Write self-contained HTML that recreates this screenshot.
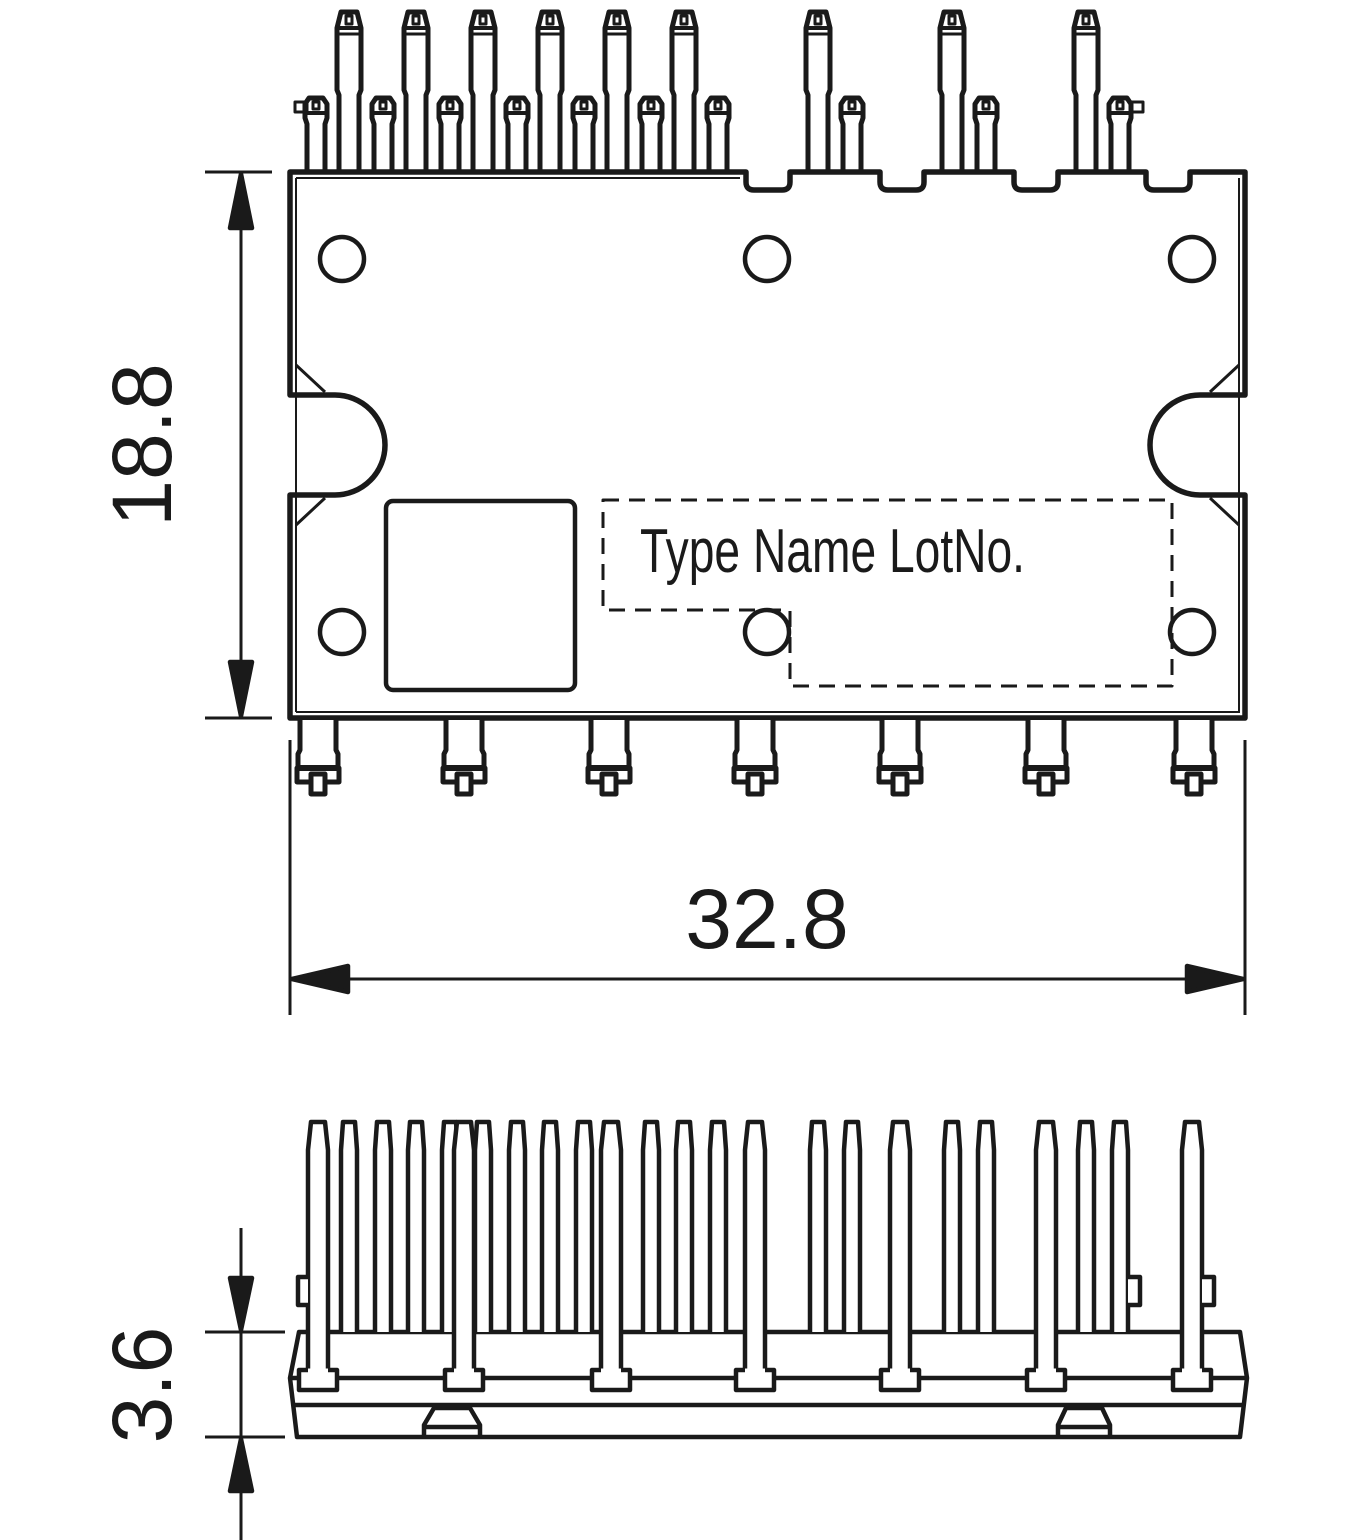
<!DOCTYPE html>
<html><head><meta charset="utf-8"><style>
html,body{margin:0;padding:0;background:#fff;}
svg{display:block;}
</style></head><body>
<svg width="1352" height="1540" viewBox="0 0 1352 1540" xmlns="http://www.w3.org/2000/svg" fill="none" stroke="#1a1a1a" stroke-width="4.5" stroke-linejoin="round">
<defs>
<g id="tall">
<path d="M-10,172 V95 L-12,90 V28 L-8,12 H8 L12,28 V90 L10,95 V172" fill="#fff" stroke-width="5"/>
<rect x="-3" y="16" width="6" height="8" stroke-width="3"/>
<line x1="-11" y1="28" x2="11" y2="28" stroke-width="4"/>
<line x1="-11" y1="34" x2="11" y2="34" stroke-width="3"/>
</g>
<g id="short">
<path d="M-9,172 V124 L-11,118 V104 L-7,98 H7 L11,104 V118 L9,124 V172" fill="#fff" stroke-width="5"/>
<rect x="-3" y="102" width="6" height="7" stroke-width="3"/>
<line x1="-10" y1="113" x2="10" y2="113" stroke-width="4"/>
</g>
<g id="bpin">
<path d="M-18,720 V750 L-20,754 V768 H20 V754 L18,750 V720" fill="#fff" stroke-width="5"/>
<rect x="-21" y="768" width="42" height="14" fill="#fff" stroke-width="5"/>
<rect x="-7" y="774" width="14" height="20" fill="#fff" stroke-width="5"/>
<line x1="-21" y1="768" x2="21" y2="768" stroke-width="6"/>
</g>
<g id="sthin">
<path d="M-8,1332 V1150 L-6,1122 H6 L8,1150 V1332" fill="#fff"/>
</g>
<g id="sthick">
<rect x="-19" y="1370" width="38" height="20" fill="#fff"/>
<path d="M-10,1372 V1150 L-7,1122 H7 L10,1150 V1372" fill="#fff"/>
<line x1="-10" y1="1371" x2="10" y2="1371" stroke="#fff" stroke-width="5"/>
</g>
</defs>

<use href="#short" x="316"/><use href="#short" x="383"/><use href="#short" x="450"/><use href="#short" x="517"/><use href="#short" x="584"/><use href="#short" x="651"/><use href="#short" x="718"/><use href="#short" x="852"/><use href="#short" x="986"/><use href="#short" x="1120"/>
<use href="#tall" x="349"/><use href="#tall" x="416"/><use href="#tall" x="483"/><use href="#tall" x="550"/><use href="#tall" x="617"/><use href="#tall" x="684"/><use href="#tall" x="818"/><use href="#tall" x="952"/><use href="#tall" x="1086"/>
<rect x="295" y="102" width="12" height="10" stroke-width="3"/>
<rect x="1131" y="102" width="12" height="10" stroke-width="3"/>

<path d="M290,172 H746 V182 Q746,190 754,190 H782 Q790,190 790,182 V172 H880 V182 Q880,190 888,190 H916 Q924,190 924,182 V172 H1014 V182 Q1014,190 1022,190 H1050 Q1058,190 1058,182 V172 H1146 V182 Q1146,190 1154,190 H1182 Q1190,190 1190,182 V172 H1245 V395 H1200 A50,50 0 0 0 1200,495 H1245 V718 H290 V495 H335 A50,50 0 0 0 335,395 H290 Z" fill="#fff" stroke-width="5.5"/>
<line x1="296" y1="178" x2="296" y2="712" stroke-width="2"/>
<line x1="296" y1="178" x2="740" y2="178" stroke-width="2"/>
<line x1="296" y1="712" x2="1240" y2="712" stroke-width="2"/>
<line x1="1239" y1="178" x2="1239" y2="712" stroke-width="2"/>
<path d="M296,365 L325,392 M296,525 L325,498 M1239,365 L1210,392 M1239,525 L1210,498" stroke-width="3"/>
<circle cx="342" cy="259" r="22"/><circle cx="767" cy="259" r="22"/><circle cx="1192" cy="259" r="22"/>
<circle cx="342" cy="632" r="22"/><circle cx="767" cy="632" r="22"/><circle cx="1192" cy="632" r="22"/>
<rect x="386" y="501" width="189" height="189" rx="7"/>
<path d="M603,500 H1172 V686 H790 V610 H603 Z" stroke-width="3" stroke-dasharray="16,10"/>
<text x="640" y="572" font-family="'Liberation Sans Narrow','Liberation Sans',sans-serif" font-size="62" fill="#1a1a1a" stroke="none" transform="translate(640,572) scale(0.745,1) translate(-640,-572)">Type Name LotNo.</text>

<use href="#bpin" x="318"/><use href="#bpin" x="464"/><use href="#bpin" x="609"/><use href="#bpin" x="755"/><use href="#bpin" x="900"/><use href="#bpin" x="1046"/><use href="#bpin" x="1194"/>

<line x1="205" y1="172" x2="272" y2="172" stroke-width="3"/>
<line x1="205" y1="718" x2="272" y2="718" stroke-width="3"/>
<line x1="241" y1="180" x2="241" y2="710" stroke-width="3"/>
<path d="M241,174 L230,228 H252 Z M241,716 L230,662 H252 Z" fill="#1a1a1a"/>
<text x="0" y="0" transform="translate(171,445) rotate(-90)" text-anchor="middle" font-family="'Liberation Sans',sans-serif" font-size="84" fill="#1a1a1a" stroke="none">18.8</text>

<line x1="290" y1="740" x2="290" y2="1015" stroke-width="3"/>
<line x1="1245" y1="740" x2="1245" y2="1015" stroke-width="3"/>
<line x1="296" y1="979" x2="1240" y2="979" stroke-width="3"/>
<path d="M292,979 L348,966 V992 Z M1243,979 L1187,966 V992 Z" fill="#1a1a1a"/>
<text x="767" y="948" text-anchor="middle" font-family="'Liberation Sans',sans-serif" font-size="84" fill="#1a1a1a" stroke="none">32.8</text>

<path d="M299,1332 H1240 L1247,1378 L1240,1437 H297 L290,1378 Z" fill="#fff"/>
<line x1="290" y1="1378" x2="1247" y2="1378"/>
<line x1="295" y1="1405" x2="1243" y2="1405"/>
<path d="M424,1437 V1425 L434,1408 H470 L480,1425 V1437 M424,1427 H480" />
<path d="M1058,1437 V1425 L1066,1408 H1102 L1110,1425 V1437 M1058,1427 H1110" />
<use href="#sthin" x="349"/><use href="#sthin" x="383"/><use href="#sthin" x="416"/><use href="#sthin" x="450"/><use href="#sthin" x="483"/><use href="#sthin" x="517"/><use href="#sthin" x="550"/><use href="#sthin" x="584"/><use href="#sthin" x="651"/><use href="#sthin" x="684"/><use href="#sthin" x="718"/><use href="#sthin" x="818"/><use href="#sthin" x="852"/><use href="#sthin" x="952"/><use href="#sthin" x="986"/><use href="#sthin" x="1086"/><use href="#sthin" x="1120"/>
<use href="#sthick" x="318"/><use href="#sthick" x="464"/><use href="#sthick" x="611"/><use href="#sthick" x="755"/><use href="#sthick" x="900"/><use href="#sthick" x="1046"/><use href="#sthick" x="1192"/>
<path d="M308,1277 H298 V1305 H308 M1128,1277 H1140 V1305 H1128 M1202,1277 H1214 V1305 H1202" fill="#fff"/>

<line x1="205" y1="1332" x2="285" y2="1332" stroke-width="3"/>
<line x1="205" y1="1437" x2="285" y2="1437" stroke-width="3"/>
<line x1="241" y1="1228" x2="241" y2="1540" stroke-width="3"/>
<path d="M241,1330 L230,1278 H252 Z M241,1439 L230,1491 H252 Z" fill="#1a1a1a"/>
<text x="0" y="0" transform="translate(171,1385) rotate(-90)" text-anchor="middle" font-family="'Liberation Sans',sans-serif" font-size="84" fill="#1a1a1a" stroke="none">3.6</text>
</svg>
</body></html>
